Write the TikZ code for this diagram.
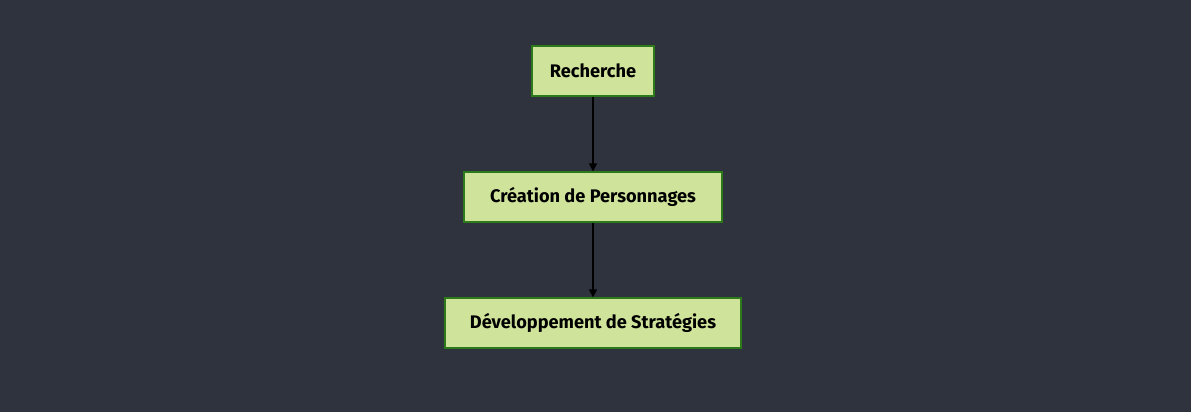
\documentclass[tikz,border=0pt]{standalone}
\usepackage{fontspec}
\setmainfont{Fira Sans}
\usetikzlibrary{arrows.meta}
\definecolor{bg}{HTML}{2E333E}
\definecolor{boxfill}{HTML}{CFE49A}
\definecolor{boxdraw}{HTML}{2D7A1A}
\begin{document}
\begin{tikzpicture}[x=1pt,y=-1pt,
  stepbox/.style={draw=boxdraw,fill=boxfill,line width=1.2pt,minimum height=50pt,inner sep=0pt,font=\bfseries\fontsize{18.2}{21}\selectfont,text=black},
  conn/.style={draw=black,line width=1.2pt,-{Triangle[length=8pt,width=8pt]}}]
\fill[bg] (0,0) rectangle (1191,412);
\useasboundingbox (0,0) rectangle (1191,412);
\node[stepbox,minimum width=122pt] (a) at (593,71) {Recherche};
\node[stepbox,minimum width=258pt] (b) at (593,197) {Création de Personnages};
\node[stepbox,minimum width=296pt] (c) at (593,323) {Développement de Stratégies};
\draw[conn] (a) -- (b);
\draw[conn] (b) -- (c);
\end{tikzpicture}
\end{document}
